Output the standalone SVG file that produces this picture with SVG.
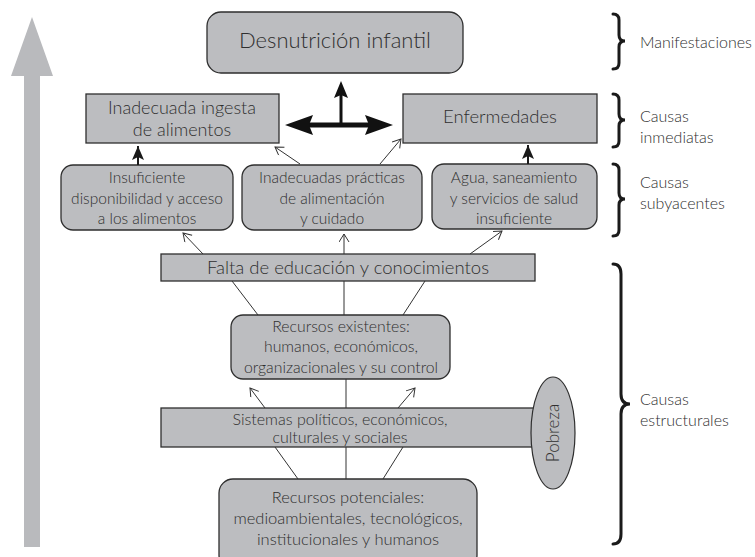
<svg xmlns="http://www.w3.org/2000/svg" width="755" height="557" viewBox="0 0 755 557">
<style>
.box{fill:#bcbdc0;stroke:#2e2e2e;stroke-width:1.3}
.t{font-family:Lato,"Open Sans","Liberation Sans",sans-serif;font-weight:300;fill:#2f2f2f;text-anchor:middle}
.lab{font-family:Lato,"Open Sans","Liberation Sans",sans-serif;font-weight:300;fill:#2f2f2f;font-size:16px}
.ln{stroke:#333;stroke-width:1;fill:none}
.brace{stroke:#1a1a1a;stroke-width:3;fill:none;stroke-linecap:round}
</style>
<defs>
<marker id="open" markerUnits="userSpaceOnUse" markerWidth="12" markerHeight="12" refX="9" refY="5" orient="auto">
<path d="M1,0 L9,5 L1,10" fill="none" stroke="#333" stroke-width="1"/>
</marker>
<marker id="solid" markerUnits="userSpaceOnUse" markerWidth="16" markerHeight="12" refX="14" refY="6" orient="auto">
<path d="M0,0 L14,6 L0,12 L3,6 Z" fill="#1a1a1a"/>
</marker>
</defs>

<g id="progress-arrow">
<polygon points="32,17 53,76 40,76 40,547 24,547 24,76 11,76" fill="#b9babd"/>
</g>

<g id="desnutricion">
<rect class="box" x="207" y="12" width="256" height="61" rx="14"/>
<text class="t" x="335" y="48" font-size="22">Desnutrición infantil</text>
</g>

<g id="ingesta">
<rect class="box" x="86" y="94" width="193" height="49"/>
<text class="t" x="182" y="114" font-size="18">Inadecuada ingesta</text>
<text class="t" x="182" y="136" font-size="18">de alimentos</text>
</g>

<g id="enfermedades">
<rect class="box" x="403" y="94" width="194" height="49"/>
<text class="t" x="500" y="123" font-size="18.5">Enfermedades</text>
</g>

<g id="disponibilidad">
<rect class="box" x="61" y="165" width="172" height="65" rx="12"/>
<text class="t" x="147" y="183" font-size="15.5">Insuficiente</text>
<text class="t" x="147" y="204" font-size="15.5">disponibilidad y acceso</text>
<text class="t" x="147" y="224" font-size="15.5">a los alimentos</text>
</g>

<g id="practicas">
<rect class="box" x="242" y="165" width="180" height="65" rx="12"/>
<text class="t" x="332" y="183" font-size="15.5">Inadecuadas prácticas</text>
<text class="t" x="332" y="204" font-size="15.5">de alimentación</text>
<text class="t" x="332" y="224" font-size="15.5">y cuidado</text>
</g>

<g id="agua">
<rect class="box" x="432" y="164" width="165" height="65" rx="12"/>
<text class="t" x="514" y="183" font-size="15.5">Agua, saneamiento</text>
<text class="t" x="514" y="204" font-size="15.5">y servicios de salud</text>
<text class="t" x="514" y="224" font-size="15.5">insuficiente</text>
</g>

<g id="educacion">
<rect class="box" x="161" y="254" width="374" height="27"/>
<text class="t" x="348" y="274" font-size="18.5">Falta de educación y conocimientos</text>
</g>

<g id="recursos-existentes">
<rect class="box" x="231" y="315" width="219" height="64" rx="12"/>
<text class="t" x="341" y="332" font-size="15.8">Recursos existentes:</text>
<text class="t" x="341" y="352" font-size="15.8">humanos, económicos,</text>
<text class="t" x="341" y="373" font-size="15.8">organizacionales y su control</text>
</g>

<g id="sistemas">
<rect class="box" x="161" y="408" width="374" height="39"/>
<text class="t" x="340" y="425" font-size="16">Sistemas políticos, económicos,</text>
<text class="t" x="340" y="443" font-size="16">culturales y sociales</text>
</g>

<g id="recursos-potenciales">
<rect class="box" x="219" y="479" width="258" height="90" rx="14"/>
<text class="t" x="348" y="503" font-size="16.5">Recursos potenciales:</text>
<text class="t" x="348" y="524" font-size="16.5">medioambientales, tecnológicos,</text>
<text class="t" x="348" y="545" font-size="16.5">institucionales y humanos</text>
</g>

<g id="pobreza">
<ellipse cx="553" cy="433" rx="22" ry="56" fill="#bcbdc0" stroke="#2e2e2e" stroke-width="1.2"/>
<text class="t" x="0" y="0" font-size="17" transform="translate(559,433) rotate(-90)">Pobreza</text>
</g>

<g id="connectors">
<line class="ln" x1="300" y1="164" x2="275" y2="147" marker-end="url(#open)"/>
<line class="ln" x1="380" y1="164" x2="401" y2="139" marker-end="url(#open)"/>
<line x1="138" y1="165" x2="138" y2="146" stroke="#1a1a1a" stroke-width="2" marker-end="url(#solid)"/>
<line x1="528" y1="164" x2="528" y2="145" stroke="#1a1a1a" stroke-width="2" marker-end="url(#solid)"/>
<line x1="309" y1="125" x2="369" y2="125" stroke="#111" stroke-width="5"/>
<polygon points="285,125 313,115 309,125 313,135" fill="#111"/>
<polygon points="393,125 365,115 369,125 365,135" fill="#111"/>
<line x1="341" y1="125" x2="341" y2="94" stroke="#111" stroke-width="3"/>
<polygon points="341,81 348,98 341,95 334,98" fill="#111"/>
<line class="ln" x1="203" y1="254" x2="183" y2="233" marker-end="url(#open)"/>
<line class="ln" x1="344" y1="254" x2="344" y2="234" marker-end="url(#open)"/>
<line class="ln" x1="470" y1="254" x2="502" y2="231" marker-end="url(#open)"/>
<line class="ln" x1="232" y1="281" x2="258" y2="315"/>
<line class="ln" x1="344" y1="281" x2="344" y2="315"/>
<line class="ln" x1="425" y1="281" x2="403" y2="315"/>
<line class="ln" x1="265" y1="408" x2="250" y2="388" marker-end="url(#open)"/>
<line class="ln" x1="346" y1="379" x2="346" y2="408"/>
<line class="ln" x1="398" y1="408" x2="415" y2="388" marker-end="url(#open)"/>
<line class="ln" x1="275" y1="447" x2="298" y2="479"/>
<line class="ln" x1="346" y1="447" x2="346" y2="479"/>
<line class="ln" x1="403" y1="447" x2="383" y2="479"/>
</g>

<g id="braces">
<path class="brace" d="M613,14 Q619,14 619,20 L619,35 Q619,41 625,41 Q619,41 619,47 L619,63 Q619,69 613,69"/>
<path class="brace" d="M613,94 Q619,94 619,100 L619,114 Q619,120 625,120 Q619,120 619,126 L619,141 Q619,147 613,147"/>
<path class="brace" d="M613,164 Q619,164 619,170 L619,193 Q619,199 625,199 Q619,199 619,205 L619,230 Q619,236 613,236"/>
<path class="brace" stroke-width="4.5" d="M613,264 Q621,264 621,274 L621,394 Q621,404 630,404 Q621,404 621,414 L621,534 Q621,544 613,544"/>
</g>

<g id="labels">
<text class="lab" x="640" y="48">Manifestaciones</text>
<text class="lab" x="640" y="122">Causas</text>
<text class="lab" x="640" y="143">inmediatas</text>
<text class="lab" x="640" y="188">Causas</text>
<text class="lab" x="640" y="209">subyacentes</text>
<text class="lab" x="640" y="405">Causas</text>
<text class="lab" x="640" y="426">estructurales</text>
</g>
</svg>
